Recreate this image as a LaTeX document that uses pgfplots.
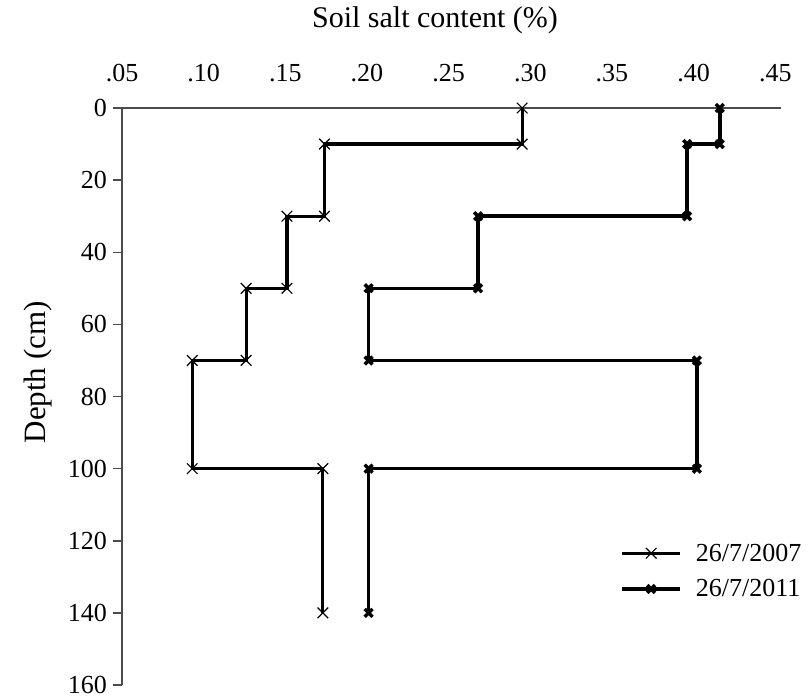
\documentclass[border=0pt]{standalone}
\usepackage{pgfplots}
\pgfplotsset{compat=1.18}
\usepackage{fontspec}
\setmainfont{Liberation Serif}
\begin{document}
\begin{tikzpicture}
\useasboundingbox (0pt,0pt) rectangle (811pt,699pt);
\begin{axis}[
  at={(122pt,14pt)}, anchor=south west,
  scale only axis, width=659pt, height=577pt,
  xmin=0.05, xmax=0.4535, ymin=0, ymax=160,
  y dir=reverse,
  axis x line*=top, axis y line*=left,
  xtick pos=right, xticklabel pos=right,
  axis line style={black!70, line width=2pt},
  clip=false,
  xtick={0.05,0.1,0.15,0.2,0.25,0.3,0.35,0.4,0.45},
  xticklabels={.05,.10,.15,.20,.25,.30,.35,.40,.45},
  xtick style={draw=none},
  xticklabel style={anchor=center, yshift=26pt, font=\fontsize{26}{30}\selectfont},
  ytick={0,20,40,60,80,100,120,140,160},
  yticklabels={0,20,40,60,80,100,120,140,160},
  tick align=outside,
  major tick length=9pt,
  ytick style={black!70, line width=1.5pt},
  yticklabel style={anchor=east, inner sep=0pt, xshift=-6pt, font=\fontsize{26}{30}\selectfont},
  legend style={at={(axis description cs:0.756,0.245)}, anchor=north west,
    draw=none, fill=none, inner sep=0pt, row sep=17pt,
    font=\fontsize{26}{28}\selectfont, cells={anchor=west},
    nodes={inner sep=0pt}},
  legend image code/.code={\draw[mark repeat=2,mark phase=2,#1] plot coordinates {(0pt,0pt)(29pt,0pt)(58pt,0pt)}; \path (72pt,0pt);},
]
\addplot[black, line width=3.2pt, mark=x, mark size=7.5pt, mark options={line width=1.2pt}] coordinates {
(0.295,0)(0.295,10)(0.174,10)(0.174,30)(0.151,30)(0.151,50)(0.126,50)(0.126,70)(0.093,70)(0.093,100)(0.173,100)(0.173,140)};
\addlegendentry{26/7/2007}
\addplot[black, line width=3.5pt, mark=x, mark size=5.5pt, mark options={line width=3.5pt}] coordinates {
(0.416,0)(0.416,10)(0.396,10)(0.396,30)(0.268,30)(0.268,50)(0.201,50)(0.201,70)(0.402,70)(0.402,100)(0.201,100)(0.201,140)};
\addlegendentry{26/7/2011}
\node[font=\fontsize{30}{34}\selectfont, anchor=center] at (axis description cs:0.475,1) [yshift=88pt] {Soil salt content (\%)};
\node[font=\fontsize{31}{34}\selectfont, anchor=center, rotate=90] at ([xshift=-84pt]axis description cs:0,0.542) {Depth (cm)};
\end{axis}
\end{tikzpicture}
\end{document}
